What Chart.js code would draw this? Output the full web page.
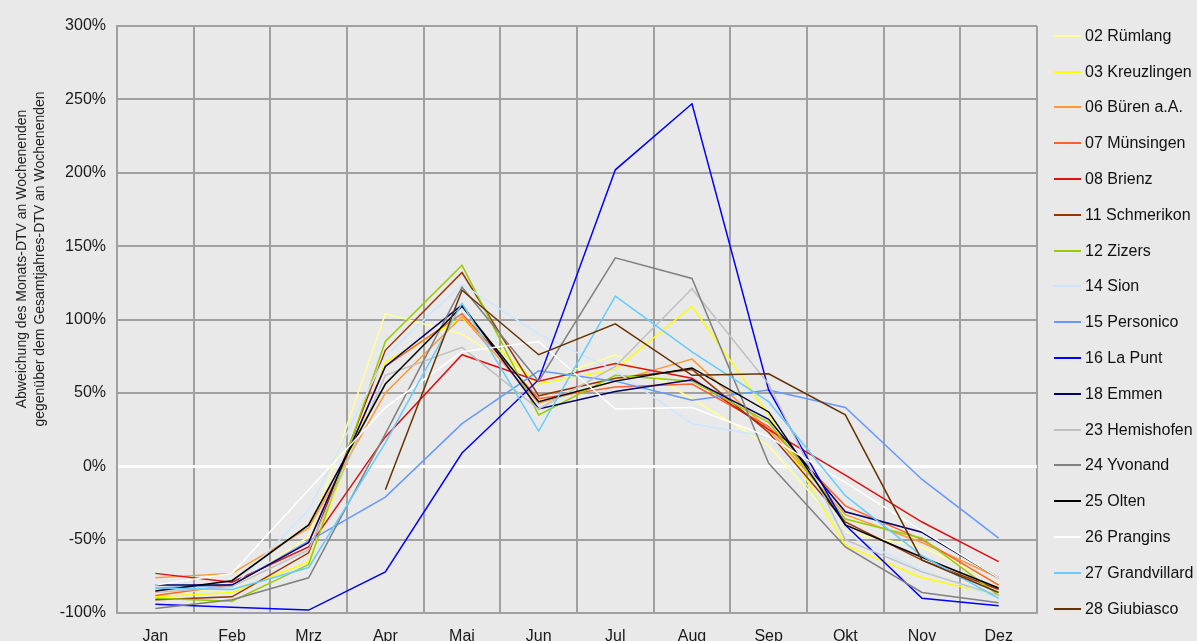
<!DOCTYPE html>
<html lang="de">
<head>
<meta charset="utf-8">
<title>Abweichung Monats-DTV an Wochenenden</title>
<script src="https://cdn.jsdelivr.net/npm/chart.js@4/dist/chart.umd.min.js"></script>
<style>
  html, body { margin: 0; padding: 0; background: #e9e9e9; overflow: hidden; }
  #box { position: relative; width: 1197px; height: 641px; }
  #leyenda { position: absolute; left: 1054px; top: 18px; margin: 0; padding: 0; list-style: none;
             font: 16px "Liberation Sans", Arial, sans-serif; color: #111; }
  #leyenda li { height: 35.8px; display: flex; align-items: center; white-space: nowrap; }
  #leyenda span { display: inline-block; width: 27px; height: 2px; margin-right: 4px; }
</style>
</head>
<body>
<div id="box">
  <canvas id="grafico"></canvas>
  <ul id="leyenda"></ul>
</div>
<script>
const months = ["Jan", "Feb", "Mrz", "Apr", "Mai", "Jun", "Jul", "Aug", "Sep", "Okt", "Nov", "Dez"];
const yTicks = [-100, -50, 0, 50, 100, 150, 200, 250, 300];
const yTitle = ["Abweichung des Monats-DTV an Wochenenden", "gegenüber dem Gesamtjahres-DTV an Wochenenden"];

const stations = ["02 Rümlang", "03 Kreuzlingen", "06 Büren a.A.", "07 Münsingen", "08 Brienz",
  "11 Schmerikon", "12 Zizers", "14 Sion", "15 Personico", "16 La Punt", "18 Emmen",
  "23 Hemishofen", "24 Yvonand", "25 Olten", "26 Prangins", "27 Grandvillard", "28 Giubiasco"];
const colors = ["#ffff99", "#ffff00", "#ff9933", "#ff5f2e", "#dd1111",
  "#993300", "#99cc00", "#cce6ff", "#6699ff", "#0000ff", "#000066",
  "#c0c0c0", "#808080", "#000000", "#ffffff", "#66ccff", "#663300"];

// Abweichung in % je Monat
const ruemlang     = [-87, -83, -48, 104,  90, 57,  76,  46, 14, -45, -55, -80];
const kreuzlingen  = [-89, -86, -65,  71, 101, 56,  66, 109, 35, -54, -76, -88];
const bueren       = [-76, -73, -42,  50, 102, 43,  58,  73, 25, -33, -52, -76];
const muensingen   = [-88, -81, -52,  68, 104, 46,  54,  56, 27, -27, -50, -81];
const brienz       = [-73, -79, -55,  20,  76, 58,  70,  60, 25,  -6, -38, -65];
const schmerikon   = [-91, -89, -59,  79, 132, 48,  60,  66, 23, -38, -64, -84];
const zizers       = [-90, -92, -67,  85, 137, 35,  62,  58, 30, -36, -49, -88];
const sion         = [-84, -83, -30,  75, 124, 90,  65,  29, 20, -46, -71, -90];
const personico    = [-83, -81, -51, -21,  29, 65,  58,  45, 52,  40,  -9, -49];
const laPunt       = [-94, -96, -98, -72,   9, 59, 202, 247, 52, -40, -90, -95];
const emmen        = [-81, -81, -52,  68, 110, 39,  51,  59, 32, -31, -45, -76];
const hemishofen   = [-86, -82, -57,  62,  81, 39,  68, 121, 56, -50, -72, -88];
const yvonand      = [-97, -91, -76,  22, 122, 58, 142, 128,  2, -55, -86, -93];
const olten        = [-85, -78, -40,  56, 109, 44,  58,  67, 37, -40, -62, -83];
const prangins     = [-81, -73, -16,  40,  78, 85,  39,  40, 20, -11, -44, -76];
const grandvillard = [-83, -84, -69,  16, 111, 24, 116,  78, 44, -20, -61, -90];
const giubiasco    = [null, null, null, -16, 120, 76, 97, 62, 63, 35, -64, -86];

const series = [ruemlang, kreuzlingen, bueren, muensingen, brienz, schmerikon, zizers, sion,
  personico, laPunt, emmen, hemishofen, yvonand, olten, prangins, grandvillard, giubiasco];

const fontFamily = '"Liberation Sans", Arial, sans-serif';
const gridColor = "#a0a0a0";

function buildDatasets() {
  return series.map((values, i) => ({
    label: stations[i],
    data: values,
    borderColor: colors[i],
    backgroundColor: colors[i],
    borderWidth: 1.5,
    pointRadius: 0,
    tension: 0,
    order: series.length - i
  }));
}

const yTitlePlugin = {
  id: "yTitle",
  afterDraw(chart) {
    const ctx = chart.ctx;
    ctx.save();
    ctx.translate(31, 259);
    ctx.rotate(-Math.PI / 2);
    ctx.font = "14px " + fontFamily;
    ctx.fillStyle = "#222";
    ctx.textAlign = "center";
    ctx.textBaseline = "middle";
    ctx.fillText(yTitle[0], 0, -9);
    ctx.fillText(yTitle[1], 0, 9);
    ctx.restore();
  }
};

const htmlLegend = {
  id: "htmlLegend",
  afterUpdate(chart) {
    const list = document.getElementById("leyenda");
    list.innerHTML = "";
    chart.data.datasets.forEach((ds) => {
      const li = document.createElement("li");
      const line = document.createElement("span");
      line.style.background = ds.borderColor;
      li.appendChild(line);
      li.appendChild(document.createTextNode(ds.label));
      list.appendChild(li);
    });
  }
};

const config = {
  type: "line",
  data: { labels: months, datasets: buildDatasets() },
  options: {
    responsive: true,
    maintainAspectRatio: false,
    animation: false,
    layout: { padding: { left: 0, right: 160, top: 26, bottom: 0 } },
    plugins: { legend: { display: false }, tooltip: { enabled: false } },
    scales: {
      x: {
        offset: true,
        grid: { offset: true, color: gridColor, lineWidth: 2, drawTicks: false },
        border: { color: gridColor, width: 2 },
        ticks: { padding: 14, color: "#1a1a1a", font: { family: fontFamily, size: 16 }, maxRotation: 0 },
        afterFit: (scale) => { scale.height = 28; }
      },
      y: {
        min: -100,
        max: 300,
        afterBuildTicks: (scale) => { scale.ticks = yTicks.map((v) => ({ value: v })); },
        grid: {
          color: (c) => (c.tick && c.tick.value === 0 ? "#ffffff" : gridColor),
          lineWidth: (c) => (c.tick && c.tick.value === 0 ? 3 : 2),
          drawTicks: false
        },
        border: { color: gridColor, width: 2 },
        ticks: { padding: 11, color: "#1a1a1a", font: { family: fontFamily, size: 16 },
                 callback: (v) => v + "%" },
        afterFit: (scale) => { scale.width = 117; }
      }
    }
  },
  plugins: [yTitlePlugin, htmlLegend]
};

new Chart(document.getElementById("grafico"), config);
</script>
</body>
</html>
